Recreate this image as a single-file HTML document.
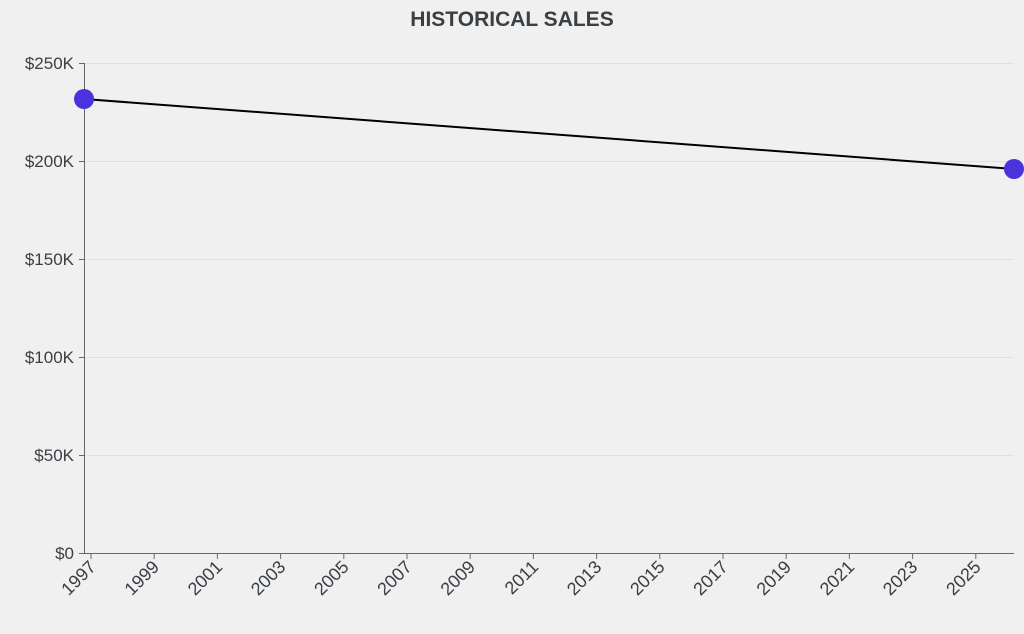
<!DOCTYPE html>
<html><head><meta charset="utf-8"><style>
html,body{margin:0;padding:0;background:#f0f0f0;}
svg{display:block;font-family:"Liberation Sans",sans-serif;}
</style></head><body>
<svg width="1024" height="634" viewBox="0 0 1024 634">
<rect width="1024" height="634" fill="#f0f0f0"/>
<text x="512" y="26" text-anchor="middle" font-size="21" font-weight="bold" fill="#3a3f44">HISTORICAL SALES</text>
<g stroke="#e0e0e0" stroke-width="1">
<line x1="84" y1="63.5" x2="1014" y2="63.5"/>
<line x1="84" y1="161.5" x2="1014" y2="161.5"/>
<line x1="84" y1="259.5" x2="1014" y2="259.5"/>
<line x1="84" y1="357.5" x2="1014" y2="357.5"/>
<line x1="84" y1="455.5" x2="1014" y2="455.5"/>
</g>
<g stroke="#666" stroke-width="1">
<line x1="84.5" y1="63" x2="84.5" y2="553"/>
<line x1="84" y1="553.5" x2="1014" y2="553.5"/>
<line x1="79" y1="63.5" x2="84" y2="63.5"/>
<line x1="79" y1="161.5" x2="84" y2="161.5"/>
<line x1="79" y1="259.5" x2="84" y2="259.5"/>
<line x1="79" y1="357.5" x2="84" y2="357.5"/>
<line x1="79" y1="455.5" x2="84" y2="455.5"/>
<line x1="79" y1="553.5" x2="84" y2="553.5"/>
<line x1="91" y1="553" x2="91" y2="559"/>
<line x1="154.2" y1="553" x2="154.2" y2="559"/>
<line x1="217.4" y1="553" x2="217.4" y2="559"/>
<line x1="280.6" y1="553" x2="280.6" y2="559"/>
<line x1="343.8" y1="553" x2="343.8" y2="559"/>
<line x1="407" y1="553" x2="407" y2="559"/>
<line x1="470.2" y1="553" x2="470.2" y2="559"/>
<line x1="533.4" y1="553" x2="533.4" y2="559"/>
<line x1="596.6" y1="553" x2="596.6" y2="559"/>
<line x1="659.8" y1="553" x2="659.8" y2="559"/>
<line x1="723" y1="553" x2="723" y2="559"/>
<line x1="786.2" y1="553" x2="786.2" y2="559"/>
<line x1="849.4" y1="553" x2="849.4" y2="559"/>
<line x1="912.6" y1="553" x2="912.6" y2="559"/>
<line x1="975.8" y1="553" x2="975.8" y2="559"/>
</g>
<g font-size="17" fill="#3a3f44" text-anchor="end">
<text x="74" y="69">$250K</text>
<text x="74" y="167">$200K</text>
<text x="74" y="265">$150K</text>
<text x="74" y="363">$100K</text>
<text x="74" y="461">$50K</text>
<text x="74" y="559">$0</text>
</g>
<g font-size="18" fill="#3a3f44" text-anchor="end">
<text transform="translate(97,568) rotate(-45)">1997</text>
<text transform="translate(160.2,568) rotate(-45)">1999</text>
<text transform="translate(223.4,568) rotate(-45)">2001</text>
<text transform="translate(286.6,568) rotate(-45)">2003</text>
<text transform="translate(349.8,568) rotate(-45)">2005</text>
<text transform="translate(413,568) rotate(-45)">2007</text>
<text transform="translate(476.2,568) rotate(-45)">2009</text>
<text transform="translate(539.4,568) rotate(-45)">2011</text>
<text transform="translate(602.6,568) rotate(-45)">2013</text>
<text transform="translate(665.8,568) rotate(-45)">2015</text>
<text transform="translate(729,568) rotate(-45)">2017</text>
<text transform="translate(792.2,568) rotate(-45)">2019</text>
<text transform="translate(855.4,568) rotate(-45)">2021</text>
<text transform="translate(918.6,568) rotate(-45)">2023</text>
<text transform="translate(981.8,568) rotate(-45)">2025</text>
</g>
<line x1="84" y1="99" x2="1014" y2="169" stroke="#000" stroke-width="2"/>
<circle cx="84" cy="99" r="10" fill="#4a32dd"/>
<circle cx="1014" cy="169" r="10" fill="#4a32dd"/>
</svg>
</body></html>
